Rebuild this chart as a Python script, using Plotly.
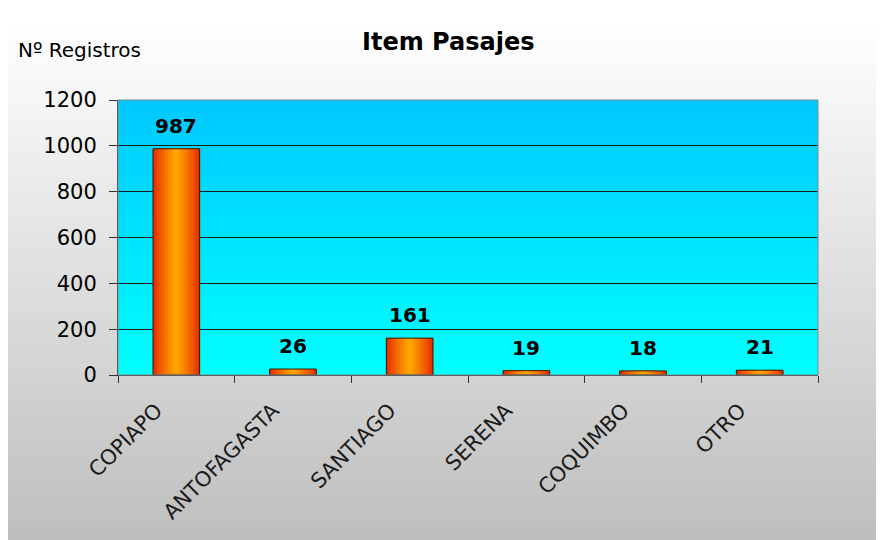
import plotly.graph_objects as go

categories = ["COPIAPO", "ANTOFAGASTA", "SANTIAGO", "SERENA", "COQUIMBO", "OTRO"]
values = [987, 26, 161, 19, 18, 21]
y_ticks = [0, 200, 400, 600, 800, 1000, 1200]

# the page adds an 8px body margin, so the figure is drawn at (8, 8)
OFF = 8
W, H = 884 - OFF, 540 - OFF
ML, MR, MT, MB = 118 - OFF, 66, 100 - OFF, 165
PW = W - ML - MR
PH = H - MT - MB
FONT = "DejaVu Sans, Verdana, sans-serif"


def lerp(c1, c2, t):
    return "rgb(%d,%d,%d)" % tuple(round(a + (b - a) * t) for a, b in zip(c1, c2))


def py_(screen_y):
    return (H - MB - (screen_y - OFF)) / PH


def px_(screen_x):
    return ((screen_x - OFF) - ML) / PW


shapes = []
# outer background gradient (white top -> grey bottom)
n = 80
top_px, bot_px = 22, 540
for i in range(n):
    y0 = top_px + (bot_px - top_px) * i / n
    y1 = top_px + (bot_px - top_px) * (i + 1) / n + 0.6
    c = lerp((255, 255, 255), (190, 190, 190), (i + 0.5) / n)
    shapes.append(dict(type="rect", xref="paper", yref="paper", layer="below",
                       x0=px_(0), x1=px_(884), y0=py_(y1), y1=py_(y0),
                       fillcolor=c, line=dict(width=0)))
# plot area gradient
n = 60
for i in range(n):
    y0 = i / n
    y1 = (i + 1) / n + 0.003
    c = lerp((0, 255, 255), (0, 200, 255), (i + 0.5) / n)
    shapes.append(dict(type="rect", xref="paper", yref="paper", layer="below",
                       x0=0, x1=1, y0=y0, y1=min(y1, 1),
                       fillcolor=c, line=dict(width=0)))
# plot border (grey)
shapes.append(dict(type="rect", xref="paper", yref="paper", layer="above",
                   x0=0, x1=1, y0=0, y1=1, fillcolor="rgba(0,0,0,0)",
                   line=dict(color="#888888", width=1)))

fig = go.Figure()

# bars: overlaid narrowing bars form the horizontal red-orange gradient
edge = (230, 40, 0)
mid = (255, 165, 0)
steps = 14
full_w = 0.4
for i in range(steps):
    t = i / (steps - 1)
    w = full_w * (1 - i / steps)
    fig.add_trace(go.Bar(
        x=categories, y=values, width=w,
        marker=dict(color=lerp(edge, mid, t ** 0.8), line=dict(width=0)),
        hoverinfo="skip", showlegend=False))

# outline
fig.add_trace(go.Bar(
    x=categories, y=values, width=full_w,
    marker=dict(color="rgba(0,0,0,0)", line=dict(color="#3a1a00", width=1)),
    hoverinfo="skip", showlegend=False))

annotations = [
    dict(text="<b>Item Pasajes</b>", xref="paper", yref="paper",
         x=px_(448), y=py_(42), xanchor="center", yanchor="middle",
         showarrow=False, font=dict(family=FONT, size=24, color="#000000")),
    dict(text="Nº Registros", xref="paper", yref="paper",
         x=px_(16), y=py_(50), xanchor="left", yanchor="middle",
         showarrow=False, font=dict(family=FONT, size=20, color="#000000")),
]
for c, v in zip(categories, values):
    annotations.append(dict(text="<b>%d</b>" % v, x=c, y=v, xref="x", yref="y",
                            xanchor="center", yanchor="bottom", yshift=9,
                            showarrow=False,
                            font=dict(family=FONT, size=20, color="#000000")))

fig.update_layout(
    width=W, height=H,
    margin=dict(l=ML, r=MR, t=MT, b=MB),
    paper_bgcolor="white",
    plot_bgcolor="rgba(0,0,0,0)",
    barmode="overlay",
    showlegend=False,
    shapes=shapes,
    annotations=annotations,
    font=dict(family=FONT, color="#000000"),
    xaxis=dict(
        type="category", tickson="boundaries", ticks="outside", ticklen=7,
        tickcolor="#333333", tickangle=-45, showgrid=False,
        showline=True, linecolor="#333333", linewidth=1,
        tickfont=dict(family=FONT, size=21, color="#1a1a1a"),
        ticklabelstandoff=14, ticklabelshift=-20,
        range=[-0.5, 5.5],
    ),
    yaxis=dict(
        range=[0, 1200], tickvals=y_ticks, ticks="outside", ticklen=8,
        tickcolor="#333333", showgrid=True, gridcolor="#1a1a1a", gridwidth=1,
        showline=True, linecolor="#333333", linewidth=1, zeroline=False,
        tickfont=dict(family=FONT, size=21, color="#000000"),
        ticklabelstandoff=8,
    ),
)

fig.write_html("out.html")
